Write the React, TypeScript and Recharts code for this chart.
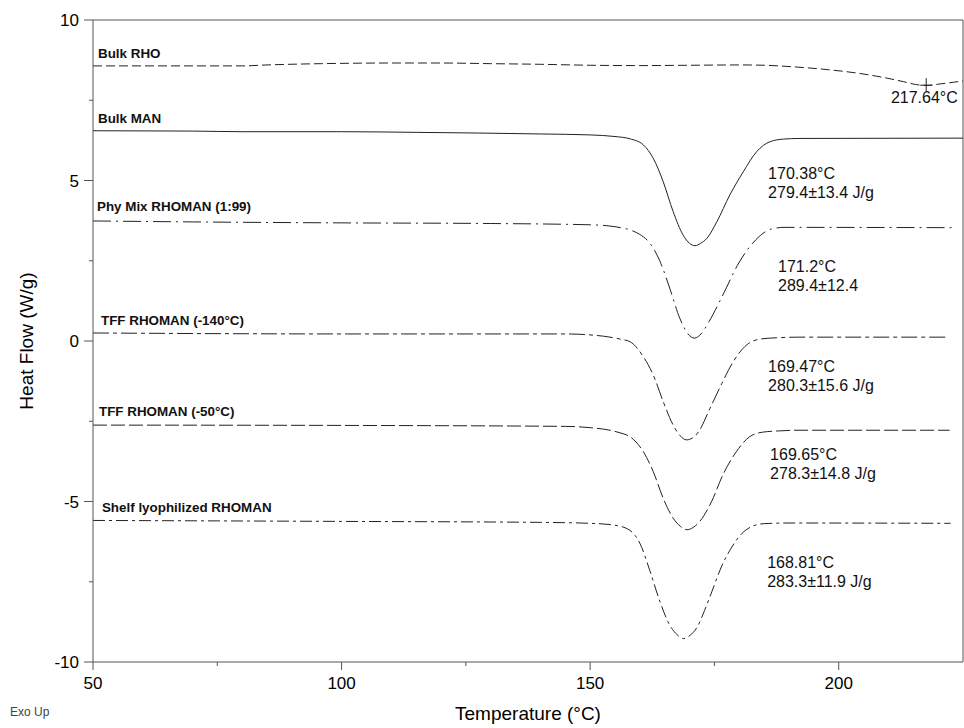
import { LineChart, Line, XAxis, YAxis, ReferenceLine, ReferenceDot } from "recharts";

const FONT = '"Liberation Sans", Arial, sans-serif';
const INK = "#222";

// Bulk RHO
const rhoTemp = [50, 80, 85, 96, 110, 120, 130, 140, 150, 160, 170, 180, 185, 190, 198, 204, 209, 213, 215.5, 217.6, 220, 223, 225];
const rhoFlow = [8.57, 8.57, 8.6, 8.64, 8.66, 8.66, 8.64, 8.62, 8.59, 8.58, 8.59, 8.6, 8.59, 8.55, 8.45, 8.34, 8.21, 8.08, 7.99, 7.96, 8.0, 8.06, 8.1];

// Bulk MAN
const manTemp = [50, 70, 80, 100, 115, 140, 150, 155, 158, 160.7, 162.7, 164.7, 166.7, 168.7, 170, 171.1, 172.2, 173.5, 175.5, 178.1, 180.8, 183.5, 186.2, 188.9, 192.2, 225];
const manFlow = [6.55, 6.54, 6.52, 6.52, 6.5, 6.45, 6.42, 6.37, 6.3, 6.11, 5.69, 4.96, 4.03, 3.3, 3.04, 2.97, 3.04, 3.2, 3.72, 4.55, 5.27, 5.9, 6.21, 6.29, 6.31, 6.32];

// Phy Mix RHOMAN (1:99)
const mixTemp = [50, 70, 100, 130, 150, 155, 158, 160, 162, 164, 166, 168, 169.7, 171, 172.3, 173.9, 176.5, 179.9, 183.3, 186.5, 189, 223.7];
const mixFlow = [3.74, 3.71, 3.68, 3.66, 3.62, 3.56, 3.46, 3.32, 3.05, 2.5, 1.65, 0.72, 0.22, 0.09, 0.22, 0.6, 1.37, 2.43, 3.15, 3.49, 3.54, 3.53];

// TFF RHOMAN (-140°C)
const tff140Temp = [50, 100, 145, 150, 154, 156, 158, 160.7, 162.7, 164.7, 166.7, 168.1, 169.4, 170.6, 171.8, 174.1, 176.5, 178.8, 181.5, 184.2, 187.5, 192, 222.1];
const tff140Flow = [0.25, 0.22, 0.22, 0.19, 0.12, 0.06, -0.02, -0.49, -1.06, -1.89, -2.62, -2.95, -3.08, -3.02, -2.83, -2.1, -1.32, -0.64, -0.12, 0.06, 0.1, 0.12, 0.12];

// TFF RHOMAN (-50°C)
const tff50Temp = [50, 100, 145, 150, 154, 156, 158, 160.7, 162.7, 164.7, 166.7, 168.2, 169.5, 170.8, 172, 174.4, 176.7, 179.4, 182.1, 184.7, 188.1, 192, 222.3];
const tff50Flow = [-2.62, -2.63, -2.66, -2.7, -2.78, -2.86, -2.98, -3.45, -4.07, -4.9, -5.52, -5.78, -5.88, -5.8, -5.63, -5.01, -4.17, -3.45, -2.98, -2.84, -2.8, -2.78, -2.78];

// Shelf lyophilized RHOMAN
const shelfTemp = [50, 100, 140, 150, 155, 158, 160, 162, 164, 166, 167.5, 168.8, 170.1, 171.5, 173, 174.5, 176.5, 178.5, 180.5, 182.5, 185, 190, 222.5];
const shelfFlow = [-5.59, -5.62, -5.65, -5.68, -5.74, -5.9, -6.3, -7.15, -8.1, -8.85, -9.15, -9.27, -9.17, -8.92, -8.4, -7.8, -7.0, -6.42, -6.0, -5.78, -5.69, -5.67, -5.68];

const xTicks = [50, 75, 100, 125, 150, 175, 200];
const yTicks = [-10, -7.5, -5, -2.5, 0, 2.5, 5, 7.5, 10];

const curveNames = [
  "Bulk RHO",
  "Bulk MAN",
  "Phy Mix RHOMAN (1:99)",
  "TFF RHOMAN (-140°C)",
  "TFF RHOMAN (-50°C)",
  "Shelf lyophilized RHOMAN",
];

const peakNotes = [
  ["217.64°C"],
  ["170.38°C", "279.4±13.4 J/g"],
  ["171.2°C", "289.4±12.4"],
  ["169.47°C", "280.3±15.6 J/g"],
  ["169.65°C", "278.3±14.8 J/g"],
  ["168.81°C", "283.3±11.9 J/g"],
];

// where the texts sit, in data units
const nameAt = [[51.0, 8.82], [51.0, 6.79], [50.8, 4.05], [51.6, 0.5], [51.2, -2.34], [51.8, -5.33]];
const noteAt = [[210.5, 7.41], [185.8, 5.05], [187.8, 2.15], [185.8, -0.97], [186.2, -3.71], [185.6, -7.07]];
const rhoMark = [217.6, 7.97];

const zip = (t: number[], v: number[]) => t.map((x, i) => ({ t: x, v: v[i] }));

const series = [
  { data: zip(rhoTemp, rhoFlow), dash: "9 4" },
  { data: zip(manTemp, manFlow), dash: undefined },
  { data: zip(mixTemp, mixFlow), dash: "18 5 2 5" },
  { data: zip(tff140Temp, tff140Flow), dash: "16 4 4 4" },
  { data: zip(tff50Temp, tff50Flow), dash: "14 4" },
  { data: zip(shelfTemp, shelfFlow), dash: "12 4 3 4" },
];

function XTick({ x, y, payload }: any) {
  const major = payload.value % 50 === 0;
  return (
    <g>
      <line x1={x} x2={x} y1={y} y2={y + (major ? 8 : 4)} stroke="#555" />
      {major && (
        <text x={x} y={y + 27} textAnchor="middle" fontSize={17} fontFamily={FONT} fill="#000">
          {payload.value}
        </text>
      )}
    </g>
  );
}

function YTick({ x, y, payload }: any) {
  const major = payload.value % 5 === 0;
  return (
    <g>
      <line x1={x - (major ? 9 : 4)} x2={x} y1={y} y2={y} stroke="#555" />
      {major && (
        <text x={x - 14} y={y + 6} textAnchor="end" fontSize={17} fontFamily={FONT} fill="#000">
          {payload.value}
        </text>
      )}
    </g>
  );
}

export default function App() {
  return (
    <div style={{ width: 964, height: 728, background: "#fff" }}>
      <style>{"body{margin:0}"}</style>
      <LineChart width={964} height={728} margin={{ top: 20, right: 1, bottom: 0, left: 0 }}>
        <XAxis
          dataKey="t"
          type="number"
          domain={[50, 225]}
          ticks={xTicks}
          interval={0}
          allowDataOverflow
          height={66}
          stroke="#555"
          tickLine={false}
          tickSize={0}
          tickMargin={0}
          tick={<XTick />}
          label={{
            content: ({ viewBox }: any) => (
              <g fontFamily={FONT}>
                <text x={viewBox.x + viewBox.width / 2} y={viewBox.y + 58} textAnchor="middle" fontSize={19} fill="#000">
                  Temperature (°C)
                </text>
                <text x={10} y={viewBox.y + 54} fontSize={12} fill="#444">
                  Exo Up
                </text>
              </g>
            ),
          }}
        />
        <YAxis
          type="number"
          domain={[-10, 10]}
          ticks={yTicks}
          interval={0}
          width={93}
          stroke="#555"
          tickLine={false}
          tickSize={0}
          tickMargin={0}
          tick={<YTick />}
          label={{
            content: ({ viewBox }: any) => {
              const cy = viewBox.y + viewBox.height / 2;
              return (
                <text x={33} y={cy} transform={`rotate(-90 33 ${cy})`} textAnchor="middle" fontSize={19} fontFamily={FONT} fill="#000">
                  Heat Flow (W/g)
                </text>
              );
            },
          }}
        />
        <ReferenceLine y={10} stroke="#555" />
        <ReferenceLine x={225} stroke="#555" />
        {series.map((s, i) => (
          <Line
            key={i}
            data={s.data}
            dataKey="v"
            type="monotone"
            dot={false}
            stroke={INK}
            strokeWidth={1}
            strokeDasharray={s.dash}
            isAnimationActive={false}
          />
        ))}
        <ReferenceDot
          x={rhoMark[0]}
          y={rhoMark[1]}
          r={0}
          shape={(p: any) => (
            <g stroke={INK} strokeWidth={1}>
              <line x1={p.cx - 6} x2={p.cx + 6} y1={p.cy} y2={p.cy} />
              <line x1={p.cx} x2={p.cx} y1={p.cy - 7} y2={p.cy + 6} />
            </g>
          )}
        />
        {curveNames.map((name, i) => (
          <ReferenceDot
            key={"n" + i}
            x={nameAt[i][0]}
            y={nameAt[i][1]}
            r={0}
            shape={(p: any) => (
              <text x={p.cx} y={p.cy} fontSize={13.4} fontWeight="bold" fontFamily={FONT} fill="#111">
                {name}
              </text>
            )}
          />
        ))}
        {peakNotes.map((lines, i) => (
          <ReferenceDot
            key={"p" + i}
            x={noteAt[i][0]}
            y={noteAt[i][1]}
            r={0}
            shape={(p: any) => (
              <text x={p.cx} y={p.cy} fontSize={16} fontFamily={FONT} fill="#111">
                {lines.map((ln, j) => (
                  <tspan key={j} x={p.cx} dy={j === 0 ? 0 : 19}>
                    {ln}
                  </tspan>
                ))}
              </text>
            )}
          />
        ))}
      </LineChart>
    </div>
  );
}
